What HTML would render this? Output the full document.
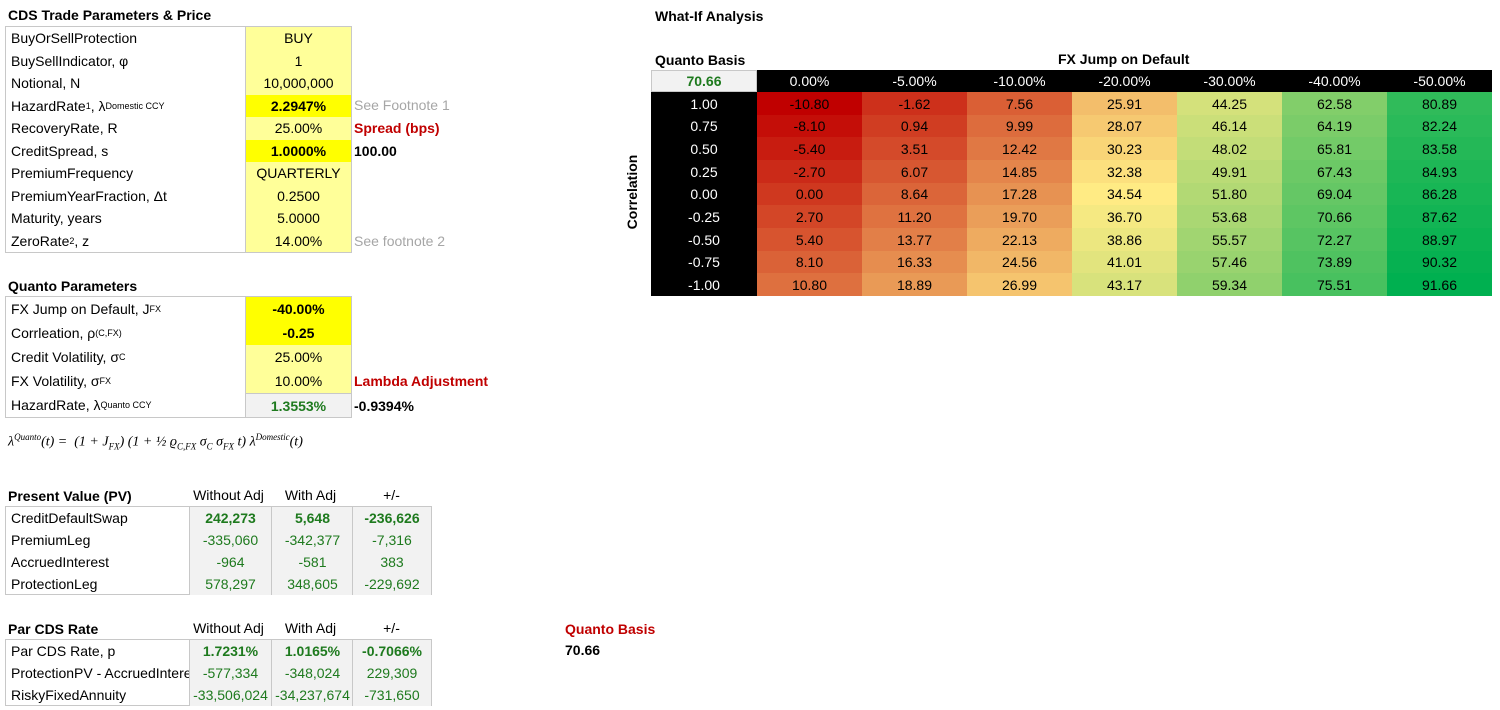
<!DOCTYPE html>
<html><head><meta charset="utf-8">
<style>
body{margin:0;width:1500px;height:710px;background:#fff;position:relative;overflow:hidden;font-family:"Liberation Sans",sans-serif;font-size:14px;color:#000}
.a{position:absolute;white-space:nowrap}
.t{font-weight:bold}
.c{position:absolute;box-sizing:border-box;white-space:nowrap;overflow:hidden;line-height:1}
.cell{position:absolute;box-sizing:border-box;display:flex;align-items:center;white-space:nowrap}
.ctr{justify-content:center}
.lbl{padding-left:5px}
.grn{color:#1e7a1e}
sup,sub{font-size:9px}
</style></head><body>
<div class="a t" style="left:8px;top:7px">CDS Trade Parameters &amp; Price</div>
<div id="t1" class="a" style="left:5px;top:26px;width:347px;height:227px;border:1px solid #c8c8c8;box-sizing:border-box"></div>
<div class="a" style="left:354px;top:97px;color:#a6a6a6">See Footnote 1</div>
<div class="a t" style="left:354px;top:120px;color:#c00000">Spread (bps)</div>
<div class="a t" style="left:354px;top:143px">100.00</div>
<div class="a" style="left:354px;top:233px;color:#a6a6a6">See footnote 2</div>

<div class="a t" style="left:8px;top:278px">Quanto Parameters</div>
<div id="t2" class="a" style="left:5px;top:296px;width:347px;height:122px;border:1px solid #c8c8c8;box-sizing:border-box"></div>
<div class="a t" style="left:354px;top:373px;color:#c00000">Lambda Adjustment</div>
<div class="a t" style="left:354px;top:398px">-0.9394%</div>
<div class="a" style="left:8px;top:432px;font-family:'Liberation Serif',serif;font-style:italic;font-size:14px">λ<sup>Quanto</sup>(t) = &nbsp;(1 + J<sub>FX</sub>) (1 + ½ ϱ<sub>C,FX</sub> σ<sub>C</sub> σ<sub>FX</sub> t) λ<sup>Domestic</sup>(t)</div>

<div class="a t" style="left:8px;top:488px">Present Value (PV)</div>
<div id="t3" class="a" style="left:5px;top:506px;width:427px;height:89px;border:1px solid #c8c8c8;box-sizing:border-box"></div>
<div class="a t" style="left:8px;top:621px">Par CDS Rate</div>
<div id="t4" class="a" style="left:5px;top:639px;width:427px;height:67px;border:1px solid #c8c8c8;box-sizing:border-box"></div>
<div class="a t" style="left:565px;top:621px;color:#c00000">Quanto Basis</div>
<div class="a t" style="left:565px;top:642px">70.66</div>

<div class="a t" style="left:655px;top:8px">What-If Analysis</div>
<div class="a t" style="left:655px;top:52px">Quanto Basis</div>
<div class="a t" style="left:1058px;top:51px">FX Jump on Default</div>
<div class="a t" style="left:632px;top:192px;transform:translate(-50%,-50%) rotate(-90deg)">Correlation</div>
<div id="hm" class="a" style="left:0;top:0"></div>

<script>
// table builder
function mk(parent, x, y, w, h, html, cls, style){
  var d=document.createElement('div');
  d.className='cell '+cls;
  d.style.left=x+'px';d.style.top=y+'px';d.style.width=w+'px';d.style.height=h+'px';
  if(style) d.style.cssText+=style;
  d.innerHTML=html;
  parent.appendChild(d);
  return d;
}
var t1=document.getElementById('t1');
var t1Labels=['BuyOrSellProtection','BuySellIndicator, φ','Notional, N','HazardRate<sup>1</sup>, λ<sup>Domestic CCY</sup>','RecoveryRate, R','CreditSpread, s','PremiumFrequency','PremiumYearFraction, Δt','Maturity, years','ZeroRate<sup>2</sup>, z'];
var t1Vals=['BUY','1','10,000,000','2.2947%','25.00%','1.0000%','QUARTERLY','0.2500','5.0000','14.00%'];
var t1Hi=[3,5];
for(var i=0;i<10;i++){
  var l=mk(t1,0,i*22.5,239,22.5,t1Labels[i],'lbl');
  
  
  var hi=t1Hi.indexOf(i)>=0;
  var v=mk(t1,239,i*22.5,106,22.5,t1Vals[i],'ctr','background:'+(hi?'#ffff00;font-weight:bold':'#ffff99')+';border-left:1px solid #c8c8c8');
  
  
}
var t2=document.getElementById('t2');
var t2Labels=['FX Jump on Default, J<sub>FX</sub>','Corrleation, ρ<sub>(C,FX)</sub>','Credit Volatility, σ<sub>C</sub>','FX Volatility, σ<sub>FX</sub>','HazardRate, λ<sup>Quanto CCY</sup>'];
var t2Vals=['-40.00%','-0.25','25.00%','10.00%','1.3553%'];
for(var i=0;i<5;i++){
  var l=mk(t2,0,i*24,239,24,t2Labels[i],'lbl');
  
  
  var bg=i<2?'#ffff00;font-weight:bold':(i<4?'#ffff99':'#f2f2f2;font-weight:bold;color:#1e7a1e;border-top:1px solid #c8c8c8');
  var v=mk(t2,239,i*24,106,24,t2Vals[i],'ctr','background:'+bg+';border-left:1px solid #c8c8c8');
  
  
}
function res(tid, top, labels, vals, rh){
  var t=document.getElementById(tid);
  var hd=['Without Adj','With Adj','+/-'];
  var cx=[183,265,346];
  for(var j=0;j<3;j++){
    var h=mk(document.body,5+cx[j],top-20,81,18,hd[j],'ctr');
    
    
  }
  for(var i=0;i<labels.length;i++){
    var l=mk(t,0,i*rh,183,rh,labels[i],'lbl');
    
    
    for(var j=0;j<3;j++){
      var v=mk(t,cx[j],i*rh,j==2?79:82,rh,vals[i][j],'ctr grn','background:#f2f2f2;border-left:1px solid #c8c8c8'+(i==0?';font-weight:bold':''));
      
      
    }
  }
}
res('t3',506,['CreditDefaultSwap','PremiumLeg','AccruedInterest','ProtectionLeg'],
  [['242,273','5,648','-236,626'],['-335,060','-342,377','-7,316'],['-964','-581','383'],['578,297','348,605','-229,692']],22);
res('t4',639,['Par CDS Rate, p','ProtectionPV - AccruedInterest','RiskyFixedAnnuity'],
  [['1.7231%','1.0165%','-0.7066%'],['-577,334','-348,024','229,309'],['-33,506,024','-34,237,674','-731,650']],22);
</script>

<script>
// Heatmap data
var fxJumps=['0.00%','-5.00%','-10.00%','-20.00%','-30.00%','-40.00%','-50.00%'];
var correlations=['1.00','0.75','0.50','0.25','0.00','-0.25','-0.50','-0.75','-1.00'];
var basisCol0=[-10.80,-8.10,-5.40,-2.70,0.00,2.70,5.40,8.10,10.80];
var basisCol1=[-1.62,0.94,3.51,6.07,8.64,11.20,13.77,16.33,18.89];
var basisCol2=[7.56,9.99,12.42,14.85,17.28,19.70,22.13,24.56,26.99];
var basisCol3=[25.91,28.07,30.23,32.38,34.54,36.70,38.86,41.01,43.17];
var basisCol4=[44.25,46.14,48.02,49.91,51.80,53.68,55.57,57.46,59.34];
var basisCol5=[62.58,64.19,65.81,67.43,69.04,70.66,72.27,73.89,75.51];
var basisCol6=[80.89,82.24,83.58,84.93,86.28,87.62,88.97,90.32,91.66];
var cornerValue='70.66';

var cols=[basisCol0,basisCol1,basisCol2,basisCol3,basisCol4,basisCol5,basisCol6];
var X0=651, Y0=70, LW=106, CW=105, HH=22, RH=(296-92)/correlations.length;
function xPos(j){return X0+LW+j*CW;}
function yPos(i){return Y0+HH+i*RH;}
var all=[];cols.forEach(function(c){all=all.concat(c);});
var sorted=all.slice().sort(function(a,b){return a-b;});
var vmin=sorted[0], vmax=sorted[sorted.length-1], vmid=sorted[Math.floor(sorted.length/2)];
function lerp(a,b,t){return [0,1,2].map(function(k){return Math.round(a[k]+(b[k]-a[k])*t);});}
function color(v){
  var lo=[192,0,0], mid=[255,235,132], hi=[0,176,80], c;
  if(v<=vmid) c=lerp(lo,mid,(v-vmin)/(vmid-vmin)); else c=lerp(mid,hi,(v-vmid)/(vmax-vmid));
  return 'rgb('+c.join(',')+')';
}
var hm=document.getElementById('hm');
var corner=mk(hm,X0,Y0,LW,HH,cornerValue,'ctr t','background:#f2f2f2;color:#1e7a1e;border:1px solid #c8c8c8');


for(var j=0;j<fxJumps.length;j++){
  var h=mk(hm,xPos(j),Y0,CW,HH,fxJumps[j],'ctr','background:#000;color:#fff');
  
  
}
for(var i=0;i<correlations.length;i++){
  var r=mk(hm,X0,yPos(i),LW,RH+0.5,correlations[i],'ctr','background:#000;color:#fff');
  
  
  for(var j=0;j<cols.length;j++){
    var v=cols[j][i];
    var c=mk(hm,xPos(j),yPos(i),CW,RH+0.5,v.toFixed(2),'ctr','background:'+color(v));
    
    
  }
}
</script>
</body></html>
